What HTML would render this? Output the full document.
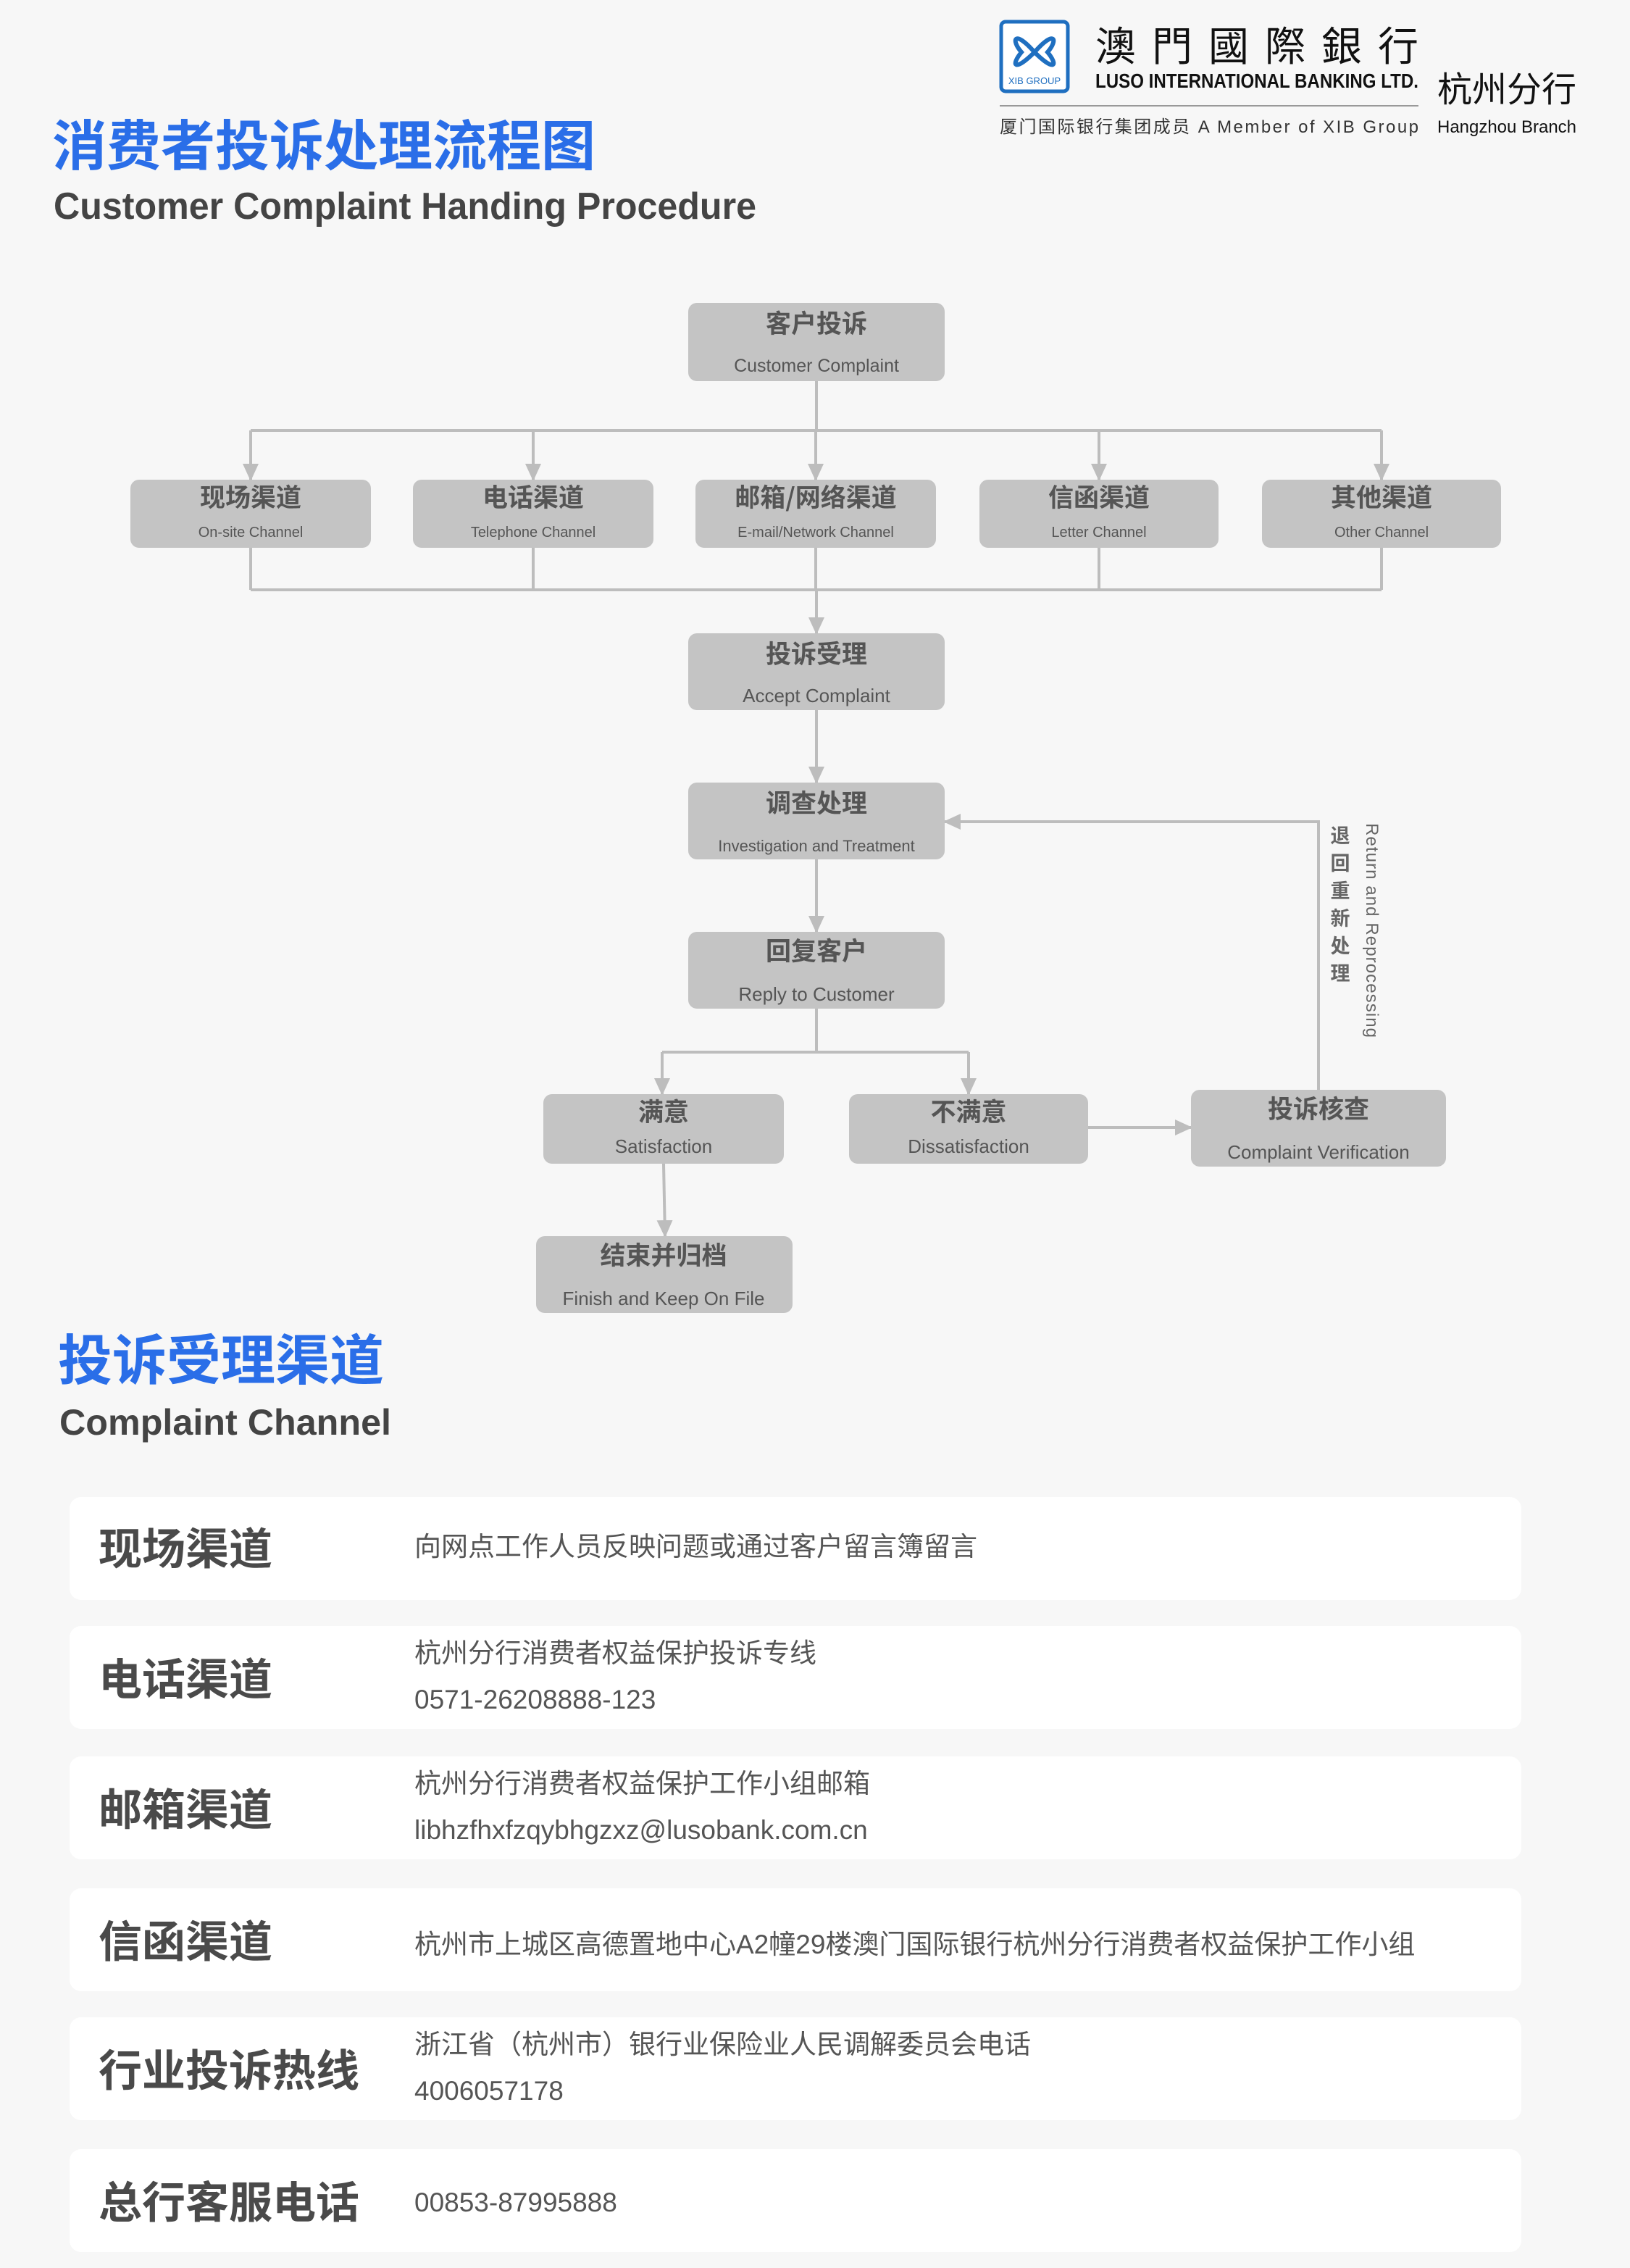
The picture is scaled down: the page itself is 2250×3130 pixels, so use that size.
<!DOCTYPE html>
<html><head><meta charset="utf-8">
<style>
html,body{margin:0;padding:0;background:#f7f7f7;}
body{width:2250px;height:3130px;position:relative;overflow:hidden;font-family:"Liberation Sans","Noto Sans CJK SC",sans-serif;}
.abs{position:absolute;white-space:nowrap;}
.card{position:absolute;left:96px;width:2004px;background:#fff;border-radius:16px;}
.lab{position:absolute;left:40px;font-size:60px;font-weight:bold;color:#4a4a4a;font-family:"Noto Sans CJK SC",sans-serif;}
.txt{position:absolute;left:476px;font-size:37px;color:#555;font-family:"Liberation Sans","Noto Sans CJK SC",sans-serif;line-height:64px;}
</style></head><body>
<svg class="abs" style="left:0;top:0" width="2250" height="3130" xmlns="http://www.w3.org/2000/svg">
<defs><marker id="a" markerWidth="24" markerHeight="22" refX="22" refY="11" orient="auto" markerUnits="userSpaceOnUse" viewBox="0 0 24 22"><path d="M0,0 L24,11 L0,22z" fill="#bdbdbd"/></marker></defs>
<!-- logo -->
<rect x="1382" y="30" width="92" height="96" rx="6" fill="#fff" stroke="#1f6fc0" stroke-width="5"/>
<g fill="none" stroke="#1f6fc0" stroke-width="6">
<path d="M1428 72 C1400 40,1395 55,1410 72 C1395 90,1400 100,1428 72z"/>
<path d="M1428 72 C1456 40,1461 55,1446 72 C1461 90,1456 100,1428 72z"/>
</g>
<text x="1428" y="116" font-size="13" fill="#1f6fc0" text-anchor="middle" font-family="Liberation Sans">XIB GROUP</text>
<text x="1512" y="84" font-size="56" fill="#111" font-family="Noto Sans CJK TC,sans-serif" textLength="446">澳門國際銀行</text>
<text x="1512" y="121" font-size="28" font-weight="bold" fill="#111" font-family="Liberation Sans" textLength="446" lengthAdjust="spacingAndGlyphs">LUSO INTERNATIONAL BANKING LTD.</text>
<line x1="1380" y1="146" x2="1958" y2="146" stroke="#999" stroke-width="2"/>
<text x="1380" y="183" font-size="24" fill="#333" font-family="Liberation Sans,Noto Sans CJK SC,sans-serif" textLength="578">厦门国际银行集团成员 A Member of XIB Group</text>
<text x="1984" y="140" font-size="48" fill="#111" font-family="Noto Sans CJK SC,sans-serif">杭州分行</text>
<text x="1984" y="183" font-size="24" fill="#111" font-family="Liberation Sans" textLength="192" lengthAdjust="spacingAndGlyphs">Hangzhou Branch</text>
<!-- titles -->
<text x="72" y="228" font-size="75" font-weight="bold" fill="#2a6ee8" font-family="Noto Sans CJK SC,sans-serif">消费者投诉处理流程图</text>
<text x="74" y="302" font-size="52" font-weight="bold" fill="#444" font-family="Liberation Sans" textLength="970" lengthAdjust="spacingAndGlyphs">Customer Complaint Handing Procedure</text>
<text x="80" y="1904" font-size="75" font-weight="bold" fill="#2a6ee8" font-family="Noto Sans CJK SC,sans-serif">投诉受理渠道</text>
<text x="82" y="1980" font-size="50" font-weight="bold" fill="#444" font-family="Liberation Sans" textLength="458" lengthAdjust="spacingAndGlyphs">Complaint Channel</text>
<!-- connectors -->
<g stroke="#bdbdbd" stroke-width="4" fill="none">
<path d="M1127 526 V594 M346 594 H1907"/>
<path d="M346 594 V662" marker-end="url(#a)"/>
<path d="M736 594 V662" marker-end="url(#a)"/>
<path d="M1126 594 V662" marker-end="url(#a)"/>
<path d="M1517 594 V662" marker-end="url(#a)"/>
<path d="M1907 594 V662" marker-end="url(#a)"/>
<path d="M346 756 V814 M736 756 V814 M1126 756 V814 M1517 756 V814 M1907 756 V814 M346 814 H1907"/>
<path d="M1127 814 V874" marker-end="url(#a)"/>
<path d="M1127 980 V1080" marker-end="url(#a)"/>
<path d="M1127 1186 V1286" marker-end="url(#a)"/>
<path d="M1127 1392 V1452 M914 1452 H1337"/>
<path d="M914 1452 V1510" marker-end="url(#a)"/>
<path d="M1337 1452 V1510" marker-end="url(#a)"/>
<path d="M916 1606 L918 1706" marker-end="url(#a)"/>
<path d="M1502 1556 H1644" marker-end="url(#a)"/>
<path d="M1820 1504 V1134 H1304" marker-end="url(#a)"/>
</g>
<!-- nodes -->
<g fill="#c4c4c4">
<rect x="950" y="418" width="354" height="108" rx="12"/>
<rect x="180" y="662" width="332" height="94" rx="12"/>
<rect x="570" y="662" width="332" height="94" rx="12"/>
<rect x="960" y="662" width="332" height="94" rx="12"/>
<rect x="1352" y="662" width="330" height="94" rx="12"/>
<rect x="1742" y="662" width="330" height="94" rx="12"/>
<rect x="950" y="874" width="354" height="106" rx="12"/>
<rect x="950" y="1080" width="354" height="106" rx="12"/>
<rect x="950" y="1286" width="354" height="106" rx="12"/>
<rect x="750" y="1510" width="332" height="96" rx="12"/>
<rect x="1172" y="1510" width="330" height="96" rx="12"/>
<rect x="1644" y="1504" width="352" height="106" rx="12"/>
<rect x="740" y="1706" width="354" height="106" rx="12"/>
</g>
<g fill="#555" text-anchor="middle" font-family="Noto Sans CJK SC,sans-serif" font-weight="bold" font-size="35">
<text x="1127" y="459">客户投诉</text>
<text x="346" y="699">现场渠道</text>
<text x="736" y="699">电话渠道</text>
<text x="1126" y="699">邮箱/网络渠道</text>
<text x="1517" y="699">信函渠道</text>
<text x="1907" y="699">其他渠道</text>
<text x="1127" y="915">投诉受理</text>
<text x="1127" y="1121">调查处理</text>
<text x="1127" y="1325">回复客户</text>
<text x="916" y="1547">满意</text>
<text x="1337" y="1547">不满意</text>
<text x="1820" y="1543">投诉核查</text>
<text x="916" y="1745">结束并归档</text>
</g>
<g fill="#555" text-anchor="middle" font-family="Liberation Sans,sans-serif">
<text x="1127" y="513" font-size="25">Customer Complaint</text>
<text x="346" y="741" font-size="20">On-site Channel</text>
<text x="736" y="741" font-size="20">Telephone Channel</text>
<text x="1126" y="741" font-size="20">E-mail/Network Channel</text>
<text x="1517" y="741" font-size="20">Letter Channel</text>
<text x="1907" y="741" font-size="20">Other Channel</text>
<text x="1127" y="969" font-size="26">Accept  Complaint</text>
<text x="1127" y="1175" font-size="22">Investigation and Treatment</text>
<text x="1127" y="1381" font-size="26">Reply to Customer</text>
<text x="916" y="1591" font-size="26">Satisfaction</text>
<text x="1337" y="1591" font-size="26">Dissatisfaction</text>
<text x="1820" y="1599" font-size="26">Complaint Verification</text>
<text x="916" y="1801" font-size="26">Finish and Keep On File</text>
</g>
<g fill="#666" font-family="Noto Sans CJK SC,sans-serif" font-weight="bold" font-size="27" text-anchor="middle">
<text x="1850" y="1163">退</text><text x="1850" y="1201">回</text><text x="1850" y="1239">重</text><text x="1850" y="1277">新</text><text x="1850" y="1315">处</text><text x="1850" y="1353">理</text>
</g>
<text transform="translate(1886,1136) rotate(90)" font-size="24" fill="#666" font-family="Liberation Sans" textLength="296">Return and Reprocessing</text>
</svg>

<div class="card" style="top:2066px;height:142px"><div class="lab" style="top:24px">现场渠道</div><div class="txt" style="top:37px">向网点工作人员反映问题或通过客户留言簿留言</div></div>
<div class="card" style="top:2244px;height:142px"><div class="lab" style="top:26px">电话渠道</div><div class="txt" style="top:6px">杭州分行消费者权益保护投诉专线<br>0571-26208888-123</div></div>
<div class="card" style="top:2424px;height:142px"><div class="lab" style="top:26px">邮箱渠道</div><div class="txt" style="top:6px">杭州分行消费者权益保护工作小组邮箱<br>libhzfhxfzqybhgzxz@lusobank.com.cn</div></div>
<div class="card" style="top:2606px;height:142px"><div class="lab" style="top:26px">信函渠道</div><div class="txt" style="top:46px">杭州市上城区高德置地中心A2幢29楼澳门国际银行杭州分行消费者权益保护工作小组</div></div>
<div class="card" style="top:2784px;height:142px"><div class="lab" style="top:26px">行业投诉热线</div><div class="txt" style="top:6px">浙江省（杭州市）银行业保险业人民调解委员会电话<br>4006057178</div></div>
<div class="card" style="top:2966px;height:142px"><div class="lab" style="top:26px">总行客服电话</div><div class="txt" style="top:42px">00853-87995888</div></div>
</body></html>
